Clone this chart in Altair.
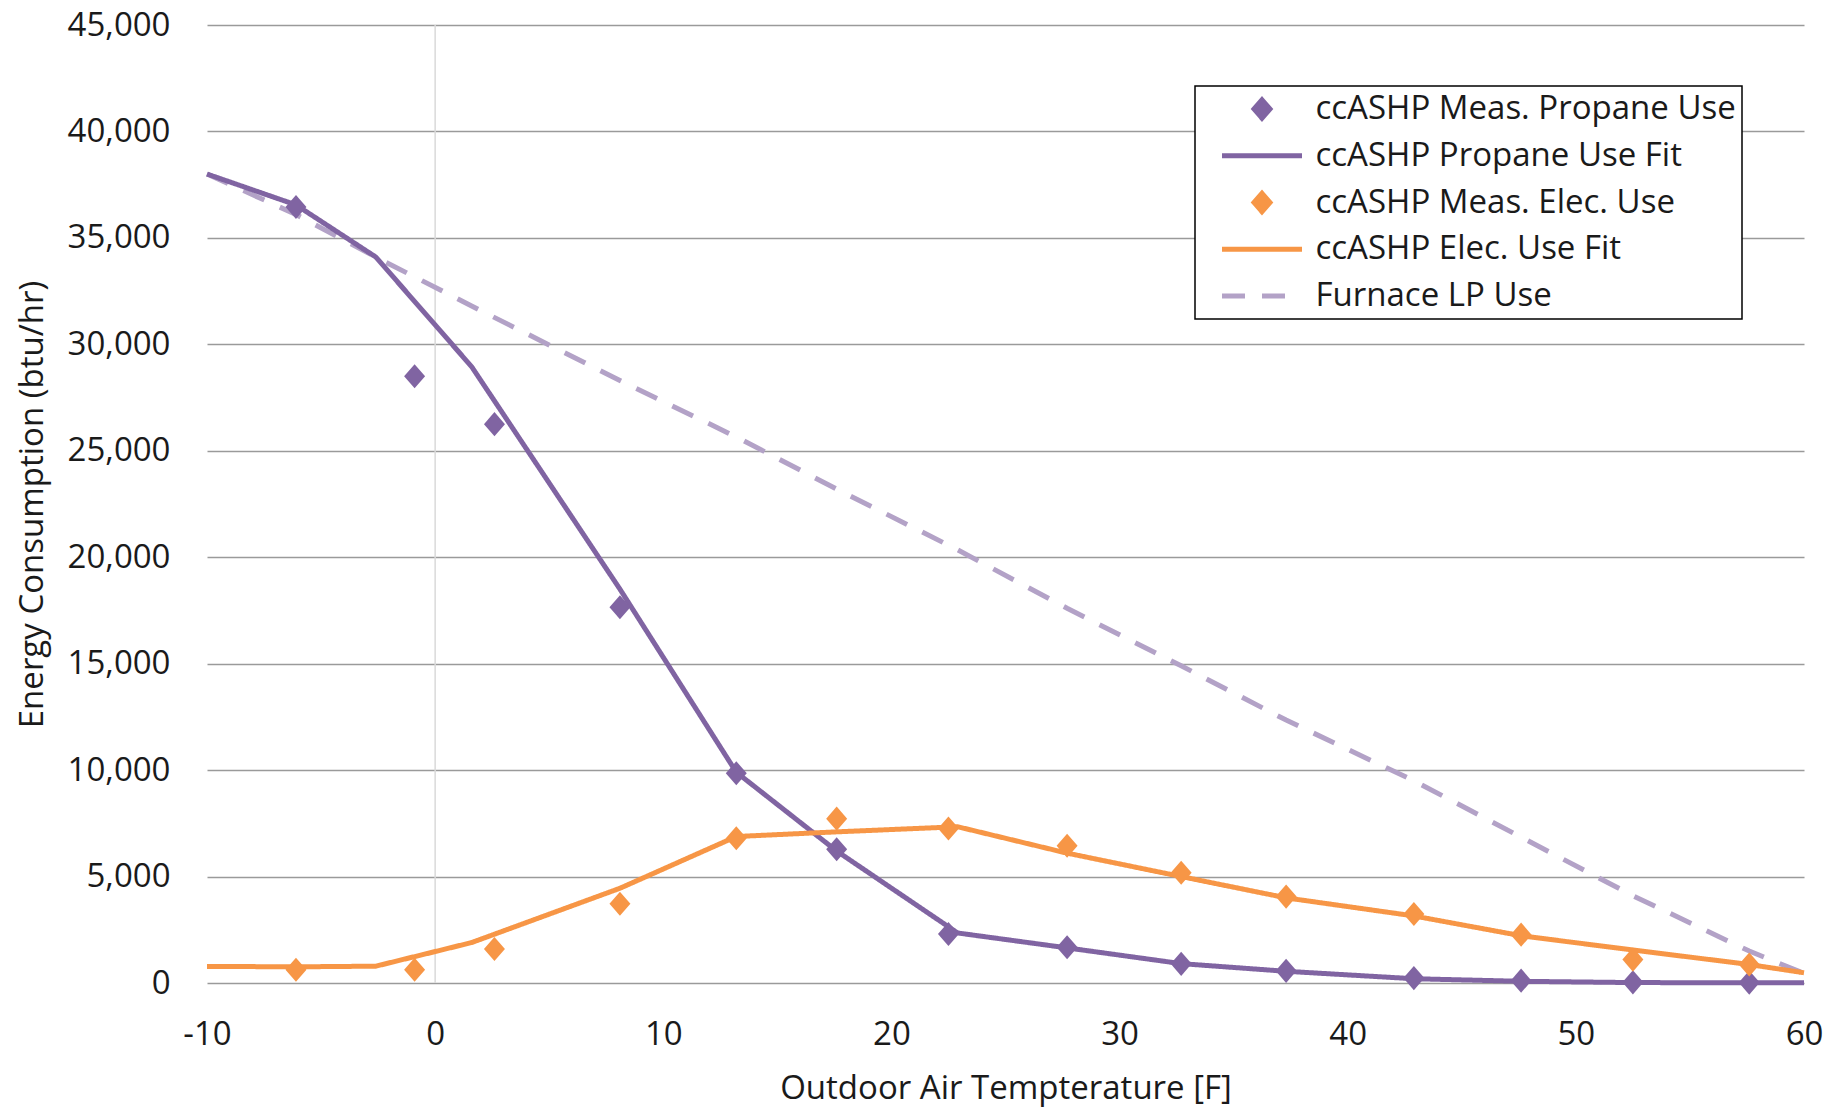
import altair as alt
import pandas as pd

FONT = "Open Sans"
TXT = "#1a1a1a"
FS = 33

# ---- data ----
meas_temp = [-6.1, -0.9, 2.6, 8.1, 13.2, 17.6, 22.5, 27.7, 32.7, 37.3, 42.9, 47.6, 52.5, 57.6]
propane_meas = [36450, 28500, 26250, 17650, 9850, 6280, 2300, 1680, 900, 570, 230, 110, 30, 20]
elec_meas = [620, 620, 1600, 3720, 6800, 7720, 7260, 6450, 5180, 4060, 3240, 2270, 1100, 870]

fit_temp = [-10, -6.1, -2.6, 1.6, 8.1, 13.2, 17.6, 22.9, 27.7, 32.7, 37.3, 42.9, 47.6, 52.5, 57.6, 60]
propane_fit = [38000, 36550, 34100, 28950, 18500, 9900, 6200, 2350, 1650, 910, 550, 200, 80, 20, 10, 10]
elec_fit = [780, 760, 790, 1900, 4450, 6880, 7100, 7340, 6100, 5000, 4000, 3150, 2220, 1550, 870, 480]
furnace_lp = [38000, 36100, 34100, 31800, 28300, 25650, 23200, 20350, 17600, 14900, 12350, 9500, 6850, 4100, 1500, 450]

series_names = ["ccASHP Meas. Propane Use", "ccASHP Propane Use Fit",
                "ccASHP Meas. Elec. Use", "ccASHP Elec. Use Fit", "Furnace LP Use"]
series_colors = ["#8064a2", "#8064a2", "#f79646", "#f79646", "#b3a2c7"]
DIAMOND = "M0,-0.23L0.2,0L0,0.23L-0.2,0Z"
series_shapes = [DIAMOND, "stroke", DIAMOND, "stroke", "stroke"]
series_dashes = [[1, 0], [1, 0], [1, 0], [1, 0], [23, 17]]

x_ticks = [-10, 0, 10, 20, 30, 40, 50, 60]
y_ticks = [0, 5000, 10000, 15000, 20000, 25000, 30000, 35000, 40000, 45000]
y_axis_cross = [0]

# ---- tables ----
pts = pd.DataFrame({
    "temp": meas_temp * 2,
    "val": propane_meas + elec_meas,
    "series": [series_names[0]] * len(meas_temp) + [series_names[2]] * len(meas_temp),
})
lines = pd.DataFrame({
    "temp": fit_temp * 3,
    "val": furnace_lp + propane_fit + elec_fit,
    "series": [series_names[4]] * len(fit_temp) + [series_names[1]] * len(fit_temp)
              + [series_names[3]] * len(fit_temp),
})
cross = pd.DataFrame({"temp": y_axis_cross})

x_scale = alt.Scale(domain=[-10, 60], nice=False, zero=False)
y_scale = alt.Scale(domain=[0, 45000], nice=False)
c_scale = alt.Scale(domain=series_names, range=series_colors)
shape_scale = alt.Scale(domain=series_names, range=series_shapes)
dash_scale = alt.Scale(domain=series_names, range=series_dashes)

x_enc = alt.X("temp:Q", scale=x_scale, axis=alt.Axis(
    values=x_ticks, title="Outdoor Air Tempterature [F]", labelExpr="'' + datum.value",
    grid=False, domain=False, ticks=False, labelPadding=35, labelFlush=False,
    labelFont=FONT, labelFontSize=FS, labelColor=TXT,
    titleFont=FONT, titleFontSize=FS, titleFontWeight="normal", titleColor=TXT,
    titleY=105, titleBaseline="middle"))
y_enc = alt.Y("val:Q", scale=y_scale, axis=alt.Axis(
    values=y_ticks, title="Energy Consumption (btu/hr)", format=",.0f",
    grid=True, gridColor="#9a9a9a", gridWidth=1.6, domain=False, ticks=False,
    labelPadding=37, labelFont=FONT, labelFontSize=FS, labelColor=TXT,
    titleFont=FONT, titleFontSize=FS, titleFontWeight="normal", titleColor=TXT,
    titleX=-175, titleY=479, titleAngle=270, titleBaseline="middle", titleAlign="center"))

leg = alt.Legend(title=None)
col = alt.Color("series:N", scale=c_scale, legend=leg)

rule = alt.Chart(cross).mark_rule(color="#d9d9d9", strokeWidth=1.5).encode(
    x=alt.X("temp:Q", scale=x_scale))

line_layer = alt.Chart(lines).mark_line(strokeWidth=5).encode(
    x=x_enc, y=y_enc, color=col,
    strokeDash=alt.StrokeDash("series:N", scale=dash_scale, legend=leg),
)
points = alt.Chart(pts).mark_point(filled=True, opacity=1, size=11000).encode(
    x=alt.X("temp:Q", scale=x_scale), y=alt.Y("val:Q", scale=y_scale),
    color=col,
    shape=alt.Shape("series:N", scale=shape_scale, legend=leg),
)

chart = alt.layer(rule, line_layer, points).properties(
    width=1597, height=958,
    autosize=alt.AutoSizeParams(type="none"),
    padding={"left": 207, "top": 25, "right": 39, "bottom": 126},
    background="#ffffff",
).configure_view(stroke=None).configure_legend(
    orient="none", legendX=988, legendY=61, direction="vertical",
    labelFont=FONT, labelFontSize=FS, labelColor=TXT, labelLimit=0,
    padding=6, strokeColor="#000000", fillColor="#ffffff", strokeWidth=1.5,
    clipHeight=34, rowPadding=12.75, symbolOffset=18.5, labelOffset=11,
    symbolOpacity=1, symbolSize=6400, symbolStrokeWidth=5,
)

chart.save("out.html", embed_options={"renderer": "svg", "actions": False})
